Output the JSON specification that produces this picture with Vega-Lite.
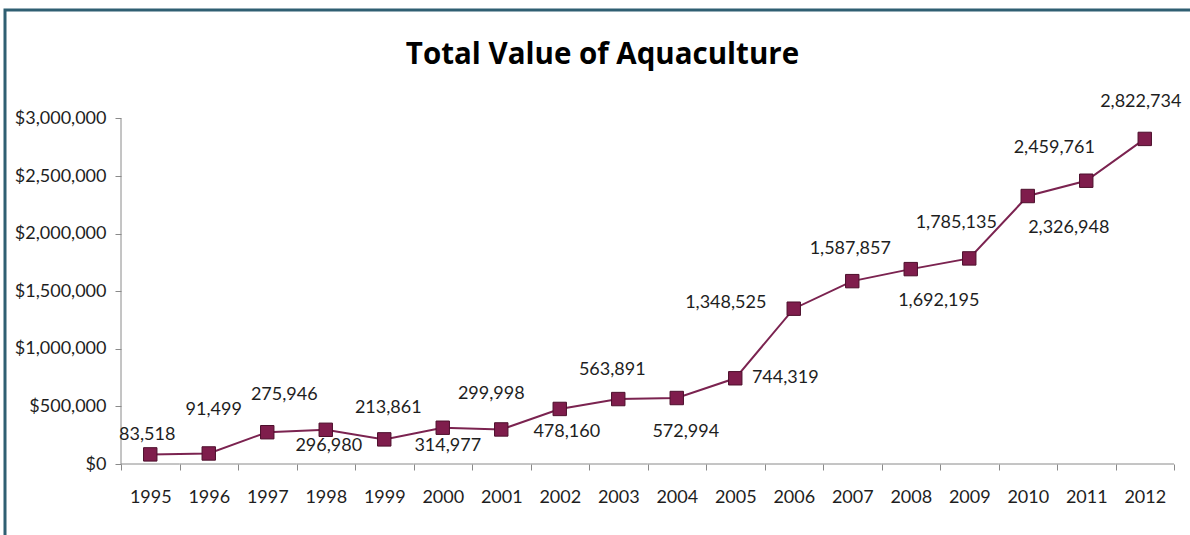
{
  "$schema": "https://vega.github.io/schema/vega-lite/v6.json",
  "autosize": {"type": "none"},
  "width": 1195,
  "height": 535,
  "padding": {"left": 5, "top": 10, "right": -10, "bottom": -10},
  "background": "white",
  "config": {
    "view": {"stroke": "#2f5f72", "strokeWidth": 3},
    "font": "Lato",
    "axis": {"labelFont": "Lato", "labelFontSize": 18, "labelColor": "#1e1e1e", "tickColor": "#8a8a8a", "tickSize": 6, "grid": false, "domain": false, "title": null}
  },
  "title": {"text": "Total Value of Aquaculture", "font": "Open Sans", "fontSize": 29.5, "fontWeight": "bold", "color": "#000000", "anchor": "middle", "frame": "group", "offset": -60},
  "data": {"values": [
    {"year": "1995", "value": 83518},
    {"year": "1996", "value": 91499},
    {"year": "1997", "value": 275946},
    {"year": "1998", "value": 296980},
    {"year": "1999", "value": 213861},
    {"year": "2000", "value": 314977},
    {"year": "2001", "value": 299998},
    {"year": "2002", "value": 478160},
    {"year": "2003", "value": 563891},
    {"year": "2004", "value": 572994},
    {"year": "2005", "value": 744319},
    {"year": "2006", "value": 1348525},
    {"year": "2007", "value": 1587857},
    {"year": "2008", "value": 1692195},
    {"year": "2009", "value": 1785135},
    {"year": "2010", "value": 2326948},
    {"year": "2011", "value": 2459761},
    {"year": "2012", "value": 2822734}
  ]},
  "encoding": {
    "x": {"field": "year", "type": "ordinal", "scale": {"type": "band", "paddingInner": 0, "paddingOuter": 0, "range": [116, 1169]},
      "axis": {"orient": "bottom", "offset": -81, "labelAngle": 0, "tickBand": "extent", "labelPadding": 18, "title": null}},
    "y": {"field": "value", "type": "quantitative", "scale": {"domain": [-703300, 3942100], "nice": false, "zero": false},
      "axis": {"orient": "left", "offset": -116, "values": [0, 500000, 1000000, 1500000, 2000000, 2500000, 3000000], "format": "$,.0f", "labelPadding": 9, "title": null}}
  },
  "layer": [
    {"mark": {"type": "rule", "color": "#8a8a8a", "strokeWidth": 1},
      "encoding": {"x": {"field": "year", "type": "ordinal", "bandPosition": 0}, "x2": {"field": "year", "bandPosition": 1}, "y": {"datum": 0}}},
    {"transform": [{"filter": "datum.year == '1995'"}],
      "mark": {"type": "rule", "color": "#8a8a8a", "strokeWidth": 1},
      "encoding": {"x": {"field": "year", "type": "ordinal", "bandPosition": 0}, "y": {"datum": 0}, "y2": {"datum": 3000000}}},
    {"mark": {"type": "line", "color": "#7b2350", "strokeWidth": 2}},
    {"mark": {"type": "point", "shape": "square", "filled": true, "size": 180, "color": "#7f1d4c", "stroke": "#4d0f2c", "strokeWidth": 1, "opacity": 1}},
    {"transform": [{"filter": "datum.year == '1995'"}], "mark": {"type": "text", "dx": -3, "dy": -19, "fontSize": 18, "color": "#1e1e1e"}, "encoding": {"text": {"field": "value", "format": ","}}},
    {"transform": [{"filter": "datum.year == '1996'"}], "mark": {"type": "text", "dx": 5, "dy": -43, "fontSize": 18, "color": "#1e1e1e"}, "encoding": {"text": {"field": "value", "format": ","}}},
    {"transform": [{"filter": "datum.year == '1997'"}], "mark": {"type": "text", "dx": 17, "dy": -37, "fontSize": 18, "color": "#1e1e1e"}, "encoding": {"text": {"field": "value", "format": ","}}},
    {"transform": [{"filter": "datum.year == '1998'"}], "mark": {"type": "text", "dx": 3, "dy": 16, "fontSize": 18, "color": "#1e1e1e"}, "encoding": {"text": {"field": "value", "format": ","}}},
    {"transform": [{"filter": "datum.year == '1999'"}], "mark": {"type": "text", "dx": 4, "dy": -31, "fontSize": 18, "color": "#1e1e1e"}, "encoding": {"text": {"field": "value", "format": ","}}},
    {"transform": [{"filter": "datum.year == '2000'"}], "mark": {"type": "text", "dx": 5, "dy": 18, "fontSize": 18, "color": "#1e1e1e"}, "encoding": {"text": {"field": "value", "format": ","}}},
    {"transform": [{"filter": "datum.year == '2001'"}], "mark": {"type": "text", "dx": -10, "dy": -35, "fontSize": 18, "color": "#1e1e1e"}, "encoding": {"text": {"field": "value", "format": ","}}},
    {"transform": [{"filter": "datum.year == '2002'"}], "mark": {"type": "text", "dx": 7, "dy": 23, "fontSize": 18, "color": "#1e1e1e"}, "encoding": {"text": {"field": "value", "format": ","}}},
    {"transform": [{"filter": "datum.year == '2003'"}], "mark": {"type": "text", "dx": -6, "dy": -29, "fontSize": 18, "color": "#1e1e1e"}, "encoding": {"text": {"field": "value", "format": ","}}},
    {"transform": [{"filter": "datum.year == '2004'"}], "mark": {"type": "text", "dx": 9, "dy": 34, "fontSize": 18, "color": "#1e1e1e"}, "encoding": {"text": {"field": "value", "format": ","}}},
    {"transform": [{"filter": "datum.year == '2005'"}], "mark": {"type": "text", "dx": 50, "dy": 0, "fontSize": 18, "color": "#1e1e1e"}, "encoding": {"text": {"field": "value", "format": ","}}},
    {"transform": [{"filter": "datum.year == '2006'"}], "mark": {"type": "text", "dx": -68, "dy": -6, "fontSize": 18, "color": "#1e1e1e"}, "encoding": {"text": {"field": "value", "format": ","}}},
    {"transform": [{"filter": "datum.year == '2007'"}], "mark": {"type": "text", "dx": -2, "dy": -32, "fontSize": 18, "color": "#1e1e1e"}, "encoding": {"text": {"field": "value", "format": ","}}},
    {"transform": [{"filter": "datum.year == '2008'"}], "mark": {"type": "text", "dx": 28, "dy": 32, "fontSize": 18, "color": "#1e1e1e"}, "encoding": {"text": {"field": "value", "format": ","}}},
    {"transform": [{"filter": "datum.year == '2009'"}], "mark": {"type": "text", "dx": -13, "dy": -35, "fontSize": 18, "color": "#1e1e1e"}, "encoding": {"text": {"field": "value", "format": ","}}},
    {"transform": [{"filter": "datum.year == '2010'"}], "mark": {"type": "text", "dx": 41, "dy": 32, "fontSize": 18, "color": "#1e1e1e"}, "encoding": {"text": {"field": "value", "format": ","}}},
    {"transform": [{"filter": "datum.year == '2011'"}], "mark": {"type": "text", "dx": -32, "dy": -33, "fontSize": 18, "color": "#1e1e1e"}, "encoding": {"text": {"field": "value", "format": ","}}},
    {"transform": [{"filter": "datum.year == '2012'"}], "mark": {"type": "text", "dx": -4, "dy": -37, "fontSize": 18, "color": "#1e1e1e"}, "encoding": {"text": {"field": "value", "format": ","}}}
  ]
}
